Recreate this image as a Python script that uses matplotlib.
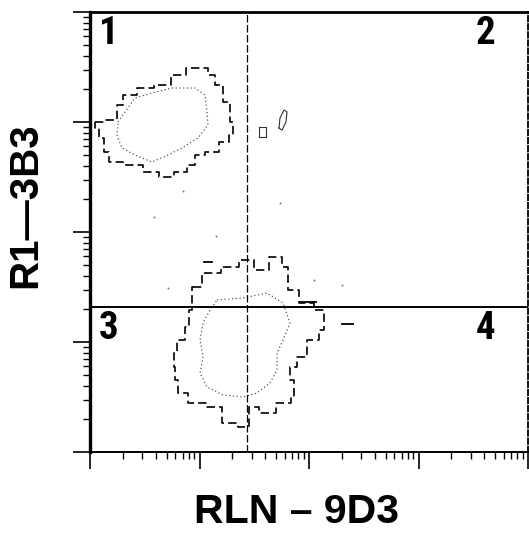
import matplotlib
matplotlib.use('Agg')
import matplotlib.pyplot as plt
import numpy as np
from matplotlib import font_manager as fm
from matplotlib.ticker import LogLocator, NullFormatter

# ---------------- data (log10 fluorescence, decades) ----------------
# upper-left population (RLN-9D3 low, R1-3B3 high)
upper_outer_x = [0.046, 0.228, 0.256, 0.347, 0.502, 0.658, 0.804, 0.932, 1.032, 1.114, 1.169, 1.260,
                 1.297, 1.306, 1.233, 1.114, 0.986, 0.932, 0.840, 0.685, 0.566, 0.384, 0.201, 0.137,
                 0.110, 0.046]
upper_outer_y = [3.000, 3.018, 3.155, 3.245, 3.309, 3.336, 3.427, 3.491, 3.491, 3.427, 3.336, 3.182,
                 3.000, 2.882, 2.818, 2.727, 2.700, 2.609, 2.545, 2.500, 2.545, 2.609, 2.636, 2.727,
                 2.855, 2.945]
upper_inner_x = [0.256, 0.320, 0.411, 0.566, 0.749, 0.959, 1.050, 1.068, 1.078, 0.986, 0.840, 0.712,
                 0.566, 0.411, 0.292, 0.247]
upper_inner_y = [3.000, 3.091, 3.218, 3.264, 3.309, 3.309, 3.245, 3.091, 2.973, 2.855, 2.764, 2.700,
                 2.636, 2.700, 2.764, 2.882]
# lower population (both low / RLN-9D3 intermediate)
lower_outer_x = [0.941, 1.096, 1.279, 1.434, 1.553, 1.708, 1.799, 1.826, 1.982, 2.100, 2.164, 2.009,
                 1.945, 1.826, 1.826, 1.890, 1.763, 1.616, 1.461, 1.434, 1.251, 1.160, 0.941, 0.849,
                 0.758, 0.795, 0.731, 0.849, 0.886, 0.913]
lower_outer_y = [1.500, 1.627, 1.682, 1.745, 1.655, 1.773, 1.682, 1.473, 1.355, 1.291, 1.109, 1.018,
                 0.864, 0.773, 0.655, 0.500, 0.445, 0.355, 0.409, 0.227, 0.264, 0.409, 0.445, 0.536,
                 0.655, 0.773, 0.900, 1.018, 1.136, 1.291]
lower_inner_x = [1.160, 1.397, 1.616, 1.763, 1.826, 1.763, 1.708, 1.708, 1.644, 1.525, 1.397, 1.215,
                 1.068, 1.005, 1.032, 1.005, 1.032, 1.096]
lower_inner_y = [1.382, 1.400, 1.445, 1.355, 1.173, 1.018, 0.900, 0.745, 0.627, 0.536, 0.500, 0.518,
                 0.591, 0.718, 0.864, 1.018, 1.173, 1.291]
# small isolated islands
island_a_x = [1.726, 1.735, 1.772, 1.799, 1.790, 1.753]
island_a_y = [2.945, 3.036, 3.109, 3.091, 3.000, 2.927]
island_b_x = [1.543, 1.607, 1.607, 1.543]
island_b_y = [2.955, 2.955, 2.864, 2.864]
# short dashes / stray events
dash_x0 = [1.040, 1.920, 2.300]
dash_x1 = [1.110, 2.060, 2.400]
dash_y = [1.727, 1.364, 1.164]
event_x = [0.585, 1.735, 2.300, 0.710, 0.849, 1.150, 2.050]
event_y = [2.136, 2.264, 1.520, 1.490, 2.373, 1.960, 1.560]

gate_x = 27.4   # RLN-9D3 quadrant cut
gate_y = 20.8   # R1-3B3 quadrant cut
quadrant_labels = ['1', '2', '3', '4']
x_title = 'RLN \u2013 9D3'
y_title = 'R1\u20143B3'

# ---------------- fonts ----------------
names = sorted({f.name for f in fm.fontManager.ttflist})
narrow = None
for cand in ['Liberation Sans Narrow', 'DejaVu Sans Condensed', 'Roboto Condensed',
             'Open Sans Condensed', 'Noto Sans Condensed']:
    if cand in names:
        narrow = cand
        break
cond_fonts = [f for f in fm.fontManager.ttflist if f.stretch in ('condensed', 'semi-condensed', 'extra-condensed', 600, 700) or
              'ondensed' in f.fname or 'Narrow' in f.fname]
if narrow is None and cond_fonts:
    narrow = cond_fonts[0].name
if narrow is None:
    narrow = 'DejaVu Sans'
wide = 'Liberation Sans' if 'Liberation Sans' in names else 'DejaVu Sans'

# ---------------- figure ----------------
fig = plt.figure(figsize=(5.29, 5.35), dpi=100)
W, H = 529, 535
ax = fig.add_axes([90 / W, (H - 452) / H, (528 - 90) / W, (452 - 12) / H])
ax.set_xscale('log')
ax.set_yscale('log')
ax.set_xlim(1, 1e4)
ax.set_ylim(1, 1e4)

def closed(xs, ys):
    xs = np.asarray(xs + xs[:1])
    ys = np.asarray(ys + ys[:1])
    return 10 ** xs, 10 ** ys

for xs, ys in [(upper_outer_x, upper_outer_y), (lower_outer_x, lower_outer_y)]:
    px, py = closed(xs, ys)
    ax.plot(px, py, color='black', lw=1.2, ls=(0, (5, 2.5)), drawstyle='steps-mid')
for xs, ys in [(upper_inner_x, upper_inner_y), (lower_inner_x, lower_inner_y)]:
    px, py = closed(xs, ys)
    ax.plot(px, py, color='#555555', lw=0.9, ls=(0, (1, 2)))
for xs, ys in [(island_a_x, island_a_y), (island_b_x, island_b_y)]:
    px, py = closed(xs, ys)
    ax.plot(px, py, color='#333333', lw=0.8, ls='-')
for x0, x1, y in zip(dash_x0, dash_x1, dash_y):
    ax.plot([10 ** x0, 10 ** x1], [10 ** y, 10 ** y], color='black', lw=1.3)
ax.scatter(10 ** np.array(event_x), 10 ** np.array(event_y), s=2, color='#777777', lw=0)

# quadrant gates
ax.axhline(gate_y, color='black', lw=1.4)
ax.axvline(gate_x, color='black', lw=0.9, ls=(0, (6, 2)))

# quadrant numbers
qpos = [(0.02, 0.95, 'left'), (0.925, 0.95, 'right'), (0.02, 0.28, 'left'), (0.925, 0.28, 'right')]
for lab, (qx, qy, ha) in zip(quadrant_labels, qpos):
    ax.text(qx, qy, lab, transform=ax.transAxes, ha=ha, va='center',
            fontsize=28, fontweight='bold', family=narrow, fontstretch='condensed')

# spines
ax.spines['left'].set_linewidth(2.4)
ax.spines['left'].set_linestyle((0, (3, 1)))
ax.spines['top'].set_linewidth(2.0)
ax.spines['bottom'].set_linewidth(1.4)
ax.spines['right'].set_linewidth(1.3)
ax.spines['right'].set_linestyle((0, (3, 1.5)))

# ticks
for axis in (ax.xaxis, ax.yaxis):
    axis.set_major_locator(LogLocator(base=10, numticks=10))
    axis.set_minor_locator(LogLocator(base=10, subs=np.arange(2, 10), numticks=10))
    axis.set_major_formatter(NullFormatter())
    axis.set_minor_formatter(NullFormatter())
ax.tick_params(axis='both', which='major', direction='out', length=12.5, width=1.2, color='black')
ax.tick_params(axis='both', which='minor', direction='out', length=5, width=1.0, color='black')

# axis titles
fig.text(297 / W, 1 - 512 / H, x_title, ha='center', va='center', fontsize=29.5,
         fontweight='bold', family=wide)
fig.text(25 / W, 1 - 205 / H, y_title, ha='center', va='center', rotation=90, fontsize=29,
         fontweight='bold', family=wide)

fig.savefig('out.png', dpi=100)
